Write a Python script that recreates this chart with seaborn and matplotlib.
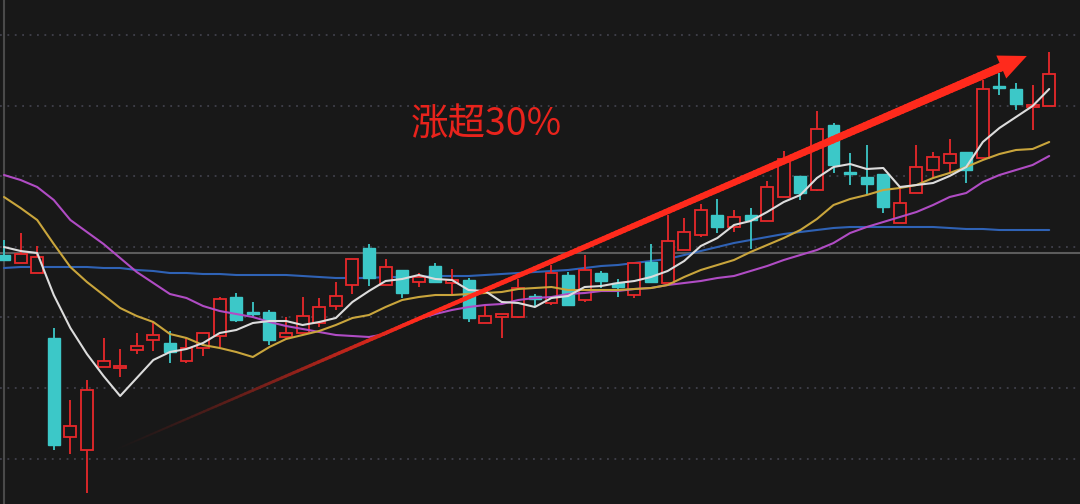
import numpy as np
import pandas as pd
import matplotlib
matplotlib.use('Agg')
import matplotlib.pyplot as plt
import seaborn as sns
from matplotlib.collections import LineCollection

# daily candles
opens = [13.80, 13.72, 13.62, 12.97, 11.98, 11.85, 12.68, 12.67, 12.85, 12.95,
         12.92, 12.74, 12.87, 12.99, 13.38, 13.23, 13.23, 12.98, 13.02, 13.12,
         13.29, 13.50, 13.87, 13.50, 13.65, 13.53, 13.69, 13.52, 13.55, 13.12,
         13.18, 13.18, 13.39, 13.32, 13.60, 13.35, 13.62, 13.52, 13.40, 13.73,
         13.52, 13.85, 14.00, 14.20, 14.08, 14.20, 14.14, 14.38, 14.59, 14.45,
         15.10, 14.63, 14.58, 14.61, 14.12, 14.42, 14.65, 14.72, 14.83, 14.77,
         15.49, 15.46, 15.28, 15.29]
highs = [13.95, 14.02, 13.89, 13.07, 12.35, 12.55, 12.97, 12.86, 13.02, 13.13,
         13.04, 12.98, 13.02, 13.38, 13.42, 13.33, 13.25, 13.18, 13.38, 13.37,
         13.53, 13.76, 13.91, 13.76, 13.65, 13.62, 13.72, 13.66, 13.57, 13.29,
         13.21, 13.56, 13.41, 13.70, 13.63, 13.80, 13.64, 13.56, 13.72, 13.91,
         14.20, 14.17, 14.31, 14.36, 14.25, 14.27, 14.54, 14.84, 14.59, 15.24,
         15.12, 14.82, 14.90, 14.61, 14.48, 14.90, 14.83, 14.96, 14.83, 15.55,
         15.62, 15.52, 15.50, 15.83]
lows = [13.74, 13.72, 13.62, 11.85, 11.81, 11.42, 12.68, 12.58, 12.81, 12.84,
        12.72, 12.72, 12.79, 12.88, 13.13, 13.17, 12.90, 12.97, 13.02, 13.08,
        13.25, 13.41, 13.49, 13.50, 13.37, 13.48, 13.52, 13.41, 13.13, 13.12,
        12.97, 13.17, 13.28, 13.30, 13.30, 13.33, 13.47, 13.38, 13.37, 13.52,
        13.52, 13.85, 13.98, 14.02, 14.03, 13.86, 14.14, 14.38, 14.35, 14.44,
        14.62, 14.50, 14.40, 14.22, 14.12, 14.42, 14.57, 14.62, 14.52, 14.77,
        15.40, 15.25, 15.05, 15.29]
closes = [13.75, 13.81, 13.78, 11.90, 12.09, 12.45, 12.74, 12.69, 12.89, 13.00,
          12.83, 12.87, 13.02, 13.36, 13.15, 13.21, 12.95, 13.02, 13.19, 13.28,
          13.39, 13.76, 13.57, 13.68, 13.42, 13.58, 13.53, 13.55, 13.17, 13.19,
          13.21, 13.47, 13.36, 13.62, 13.30, 13.65, 13.54, 13.48, 13.72, 13.53,
          13.94, 14.03, 14.25, 14.08, 14.18, 14.15, 14.48, 14.76, 14.42, 15.06,
          14.70, 14.61, 14.51, 14.28, 14.32, 14.68, 14.78, 14.81, 14.65, 15.46,
          15.47, 15.31, 15.30, 15.61]

# moving average lines
ma5 = [13.88, 13.84, 13.82, 13.40, 13.07, 12.81, 12.59, 12.39, 12.57, 12.75,
       12.83, 12.86, 12.92, 13.02, 13.05, 13.12, 13.14, 13.14, 13.10, 13.13,
       13.17, 13.33, 13.44, 13.54, 13.56, 13.60, 13.56, 13.55, 13.45, 13.44,
       13.33, 13.32, 13.28, 13.37, 13.39, 13.48, 13.49, 13.52, 13.54, 13.58,
       13.64, 13.74, 13.89, 13.97, 14.10, 14.14, 14.23, 14.33, 14.40, 14.57,
       14.68, 14.71, 14.66, 14.67, 14.48, 14.50, 14.52, 14.59, 14.68, 14.93,
       15.07, 15.18, 15.29, 15.46]
ma10 = [14.38, 14.27, 14.15, 13.91, 13.68, 13.53, 13.40, 13.27, 13.19, 13.13,
        13.01, 12.97, 12.90, 12.87, 12.83, 12.78, 12.88, 12.96, 13.00, 13.04,
        13.10, 13.17, 13.20, 13.28, 13.35, 13.38, 13.40, 13.40, 13.41, 13.42,
        13.43, 13.46, 13.47, 13.48, 13.45, 13.45, 13.45, 13.45, 13.46, 13.47,
        13.50, 13.58, 13.65, 13.70, 13.75, 13.83, 13.90, 13.97, 14.05, 14.16,
        14.30, 14.36, 14.40, 14.45, 14.47, 14.50, 14.57, 14.62, 14.68, 14.75,
        14.81, 14.85, 14.86, 14.93]
ma20 = [14.60, 14.55, 14.48, 14.35, 14.15, 14.03, 13.91, 13.77, 13.63, 13.52,
        13.41, 13.37, 13.29, 13.24, 13.21, 13.18, 13.13, 13.09, 13.06, 13.03,
        13.00, 12.99, 12.98, 13.01, 13.10, 13.16, 13.21, 13.25, 13.28, 13.30,
        13.31, 13.35, 13.37, 13.38, 13.41, 13.42, 13.44, 13.44, 13.46, 13.47,
        13.50, 13.52, 13.54, 13.57, 13.59, 13.64, 13.69, 13.75, 13.80, 13.85,
        13.92, 14.02, 14.08, 14.13, 14.18, 14.23, 14.30, 14.38, 14.42, 14.53,
        14.60, 14.65, 14.70, 14.79]
ma60 = [13.67, 13.68, 13.68, 13.68, 13.68, 13.68, 13.67, 13.67, 13.65, 13.64,
        13.62, 13.62, 13.61, 13.61, 13.60, 13.60, 13.60, 13.60, 13.59, 13.58,
        13.57, 13.57, 13.57, 13.58, 13.58, 13.58, 13.59, 13.59, 13.59, 13.60,
        13.61, 13.62, 13.63, 13.64, 13.65, 13.67, 13.69, 13.70, 13.72, 13.74,
        13.76, 13.80, 13.84, 13.88, 13.92, 13.95, 13.98, 14.01, 14.03, 14.05,
        14.07, 14.08, 14.08, 14.08, 14.08, 14.08, 14.08, 14.07, 14.06, 14.06,
        14.05, 14.05, 14.05, 14.05]

prev_close = 13.82
label = '涨超30%'

bg = '#181818'
up_col = '#e8282a'
down_col = '#3cc8c8'
arrow_col = '#ff2a1c'

sns.set_theme(style='dark')
plt.rcParams['font.family'] = ['Noto Sans CJK SC', 'DejaVu Sans']

df = pd.DataFrame({'open': opens, 'high': highs, 'low': lows, 'close': closes,
                   'ma5': ma5, 'ma10': ma10, 'ma20': ma20, 'ma60': ma60})
df['idx'] = np.arange(len(df))
up = df[df['close'] >= df['open']]
dn = df[df['close'] < df['open']]

fig = plt.figure(figsize=(10.8, 5.04), dpi=100, facecolor=bg)
ax = fig.add_axes([0, 0, 1, 1])
ax.set_facecolor(bg)
for s in ax.spines.values():
    s.set_visible(False)

# dotted grid + reference lines
for lv in 16.00 - 0.706 * np.arange(7):
    ax.axhline(lv, color='#40404b', lw=1.3, linestyle=(0, (1, 3.1)), zorder=0)
ax.axhline(prev_close, color='#5c5c5c', lw=1.5, zorder=1)
ax.axvline(0, color='#4a4a4a', lw=1.5, zorder=1)

w = 0.72
# falling candles: filled cyan
ax.vlines(dn['idx'], dn['low'], dn['high'], color=down_col, lw=1.3, zorder=3)
ax.bar(dn['idx'], dn['open'] - dn['close'], bottom=dn['close'], width=w,
       color=down_col, edgecolor=down_col, lw=1, zorder=3)
# rising candles: hollow red
ax.vlines(up['idx'], up['close'], up['high'], color=up_col, lw=1.3, zorder=3)
ax.vlines(up['idx'], up['low'], up['open'], color=up_col, lw=1.3, zorder=3)
ax.bar(up['idx'], np.maximum(up['close'] - up['open'], 0.015), bottom=up['open'], width=w,
       facecolor=bg, edgecolor=up_col, lw=1.3, zorder=3)

# moving averages
sns.lineplot(data=df, x='idx', y='ma60', color='#2f62b5', lw=1.5, ax=ax, zorder=2)
sns.lineplot(data=df, x='idx', y='ma20', color='#b04cc4', lw=1.5, ax=ax, zorder=4)
sns.lineplot(data=df, x='idx', y='ma10', color='#c9a53c', lw=1.5, ax=ax, zorder=4)
sns.lineplot(data=df, x='idx', y='ma5', color='#dcdcdc', lw=1.5, ax=ax, zorder=4)

# trend arrow, fading in from the left
p0 = np.array([6.4, 11.83])
p1 = np.array([61.65, 15.79])
t = np.linspace(0, 0.975, 220)
pts = p0 + t[:, None] * (p1 - p0)
segs = np.stack([pts[:-1], pts[1:]], axis=1)
a = np.clip(t[:-1] / 0.33, 0, 1) ** 1.3
rgb_bg = np.array(matplotlib.colors.to_rgb(bg))
rgb_ar = np.array(matplotlib.colors.to_rgb(arrow_col))
cols = rgb_bg * (1 - a[:, None]) + rgb_ar * a[:, None]
lws = 1.2 + 5.2 * t[:-1]
ax.add_collection(LineCollection(segs, colors=cols, linewidths=lws, capstyle='round', zorder=6))
hs = p0 + 0.965 * (p1 - p0)
ax.annotate('', xy=tuple(p1), xytext=tuple(hs),
            arrowprops=dict(arrowstyle='-|>,head_length=1.0,head_width=0.45',
                            color=arrow_col, lw=0, mutation_scale=20,
                            shrinkA=0, shrinkB=0), zorder=7)

ax.text(29.1, 15.10, label, color='#e8231c', fontsize=27, ha='center', va='center', zorder=8)

ax.set_xlim(-0.241, 64.857)
ax.set_ylim(11.31, 16.35)
ax.set_xticks([])
ax.set_yticks([])
ax.set_xlabel('')
ax.set_ylabel('')

fig.savefig('out.png', dpi=100, facecolor=bg)
